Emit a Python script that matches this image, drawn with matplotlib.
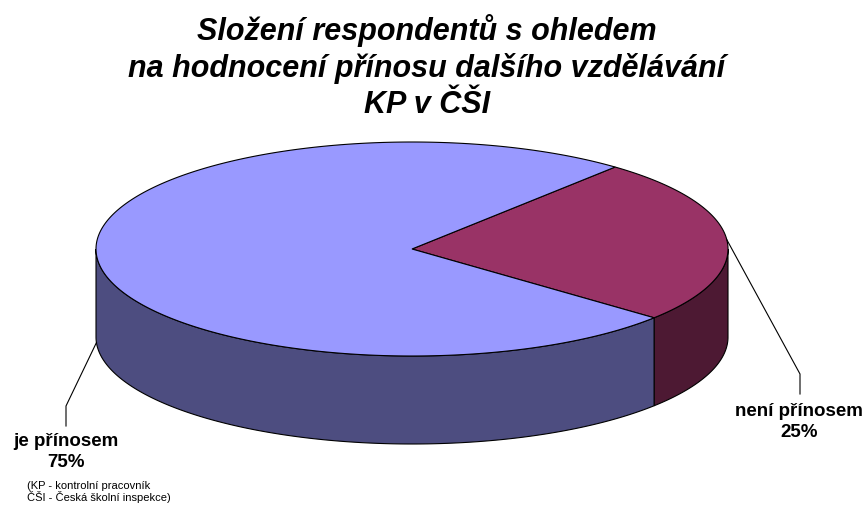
#--------importing modules-------------
import matplotlib.pyplot as plt
import numpy as np

#---------------------------------------
#-------data----------------------------
#---------------------------------------
labels = ["není přínosem", "je přínosem"]
values = [25, 75]
top_colors = ["#993366", "#9999FF"]
side_colors = ["#4D1933", "#4D4D80"]

title = "Složení respondentů s ohledem\nna hodnocení přínosu dalšího vzdělávání\nKP v ČŠI"
note = "(KP - kontrolní pracovník\nČŠI - Česká školní inspekce)"

#---------------------------------------
#-------pie geometry (pixels)-----------
#---------------------------------------
cx, cy = 412, 250        # centre of top ellipse
a, b = 316, 107          # half axes
depth = 88               # thickness of the pie
start = 50               # start angle (deg), going clockwise

plt.rcParams['font.family'] = ['Liberation Sans', 'DejaVu Sans']

fig = plt.figure(figsize=(8.66, 5.06), dpi=100)
ax = fig.add_axes([0, 0, 1, 1])
ax.set_xlim(0, 866)
ax.set_ylim(506, 0)
ax.axis('off')

def pt(t, dy=0):
    t = np.radians(t)
    return cx + a*np.cos(t), cy - b*np.sin(t) + dy

# slice angle ranges
ranges = []
ang = start
for v in values:
    span = 360.0*v/sum(values)
    ranges.append((ang - span, ang))
    ang -= span

# side walls (only front half, angles 180..360 visible)
for (t0, t1), col in zip(ranges, side_colors):
    lo, hi = t0 % 360, t1 % 360
    if hi <= lo:
        hi += 360
    for w0, w1 in [(180, 360), (540, 720)]:
        s0, s1 = max(lo, w0), min(hi, w1)
        if s1 > s0:
            tt = np.linspace(s0, s1, 200)
            xs, ys = pt(tt)
            xb, yb = pt(tt[::-1], depth)
            ax.fill(np.r_[xs, xb], np.r_[ys, yb], color=col, ec='black', lw=0.8, zorder=1)

# top faces
for (t0, t1), col in zip(ranges, top_colors):
    tt = np.linspace(t0, t1, 300)
    xs, ys = pt(tt)
    ax.fill(np.r_[cx, xs], np.r_[cy, ys], color=col, ec='black', lw=0.8, zorder=2)

#---------------------------------------
#-------labels and leader lines---------
#---------------------------------------
lab_style = dict(fontsize=13.5, fontweight='bold', ha='center', va='center')

# red slice
x0, y0 = pt(5)
ax.plot([x0, 800, 800], [y0, 375, 395], color='black', lw=0.8)
ax.text(799, 422, "%s\n%d%%" % (labels[0], values[0]), linespacing=1.35, **lab_style)

# blue slice
x0, y0 = pt(183, depth)
ax.plot([x0, 66, 66], [y0, 407, 427], color='black', lw=0.8)
ax.text(66, 452, "%s\n%d%%" % (labels[1], values[1]), linespacing=1.35, **lab_style)

ax.text(27, 492, note, fontsize=8, ha='left', va='center', linespacing=1.05)

ax.text(427, 67, title, fontsize=22, fontweight='bold', style='italic',
        ha='center', va='center', linespacing=1.26)

fig.savefig("out.png", dpi=100)
